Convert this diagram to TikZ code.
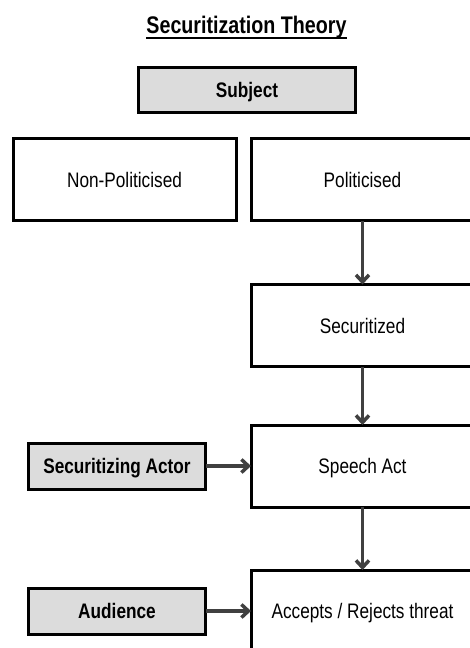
\documentclass[tikz,border=0pt]{standalone}
\usepackage{fontspec}
\setmainfont{Liberation Sans}[FakeStretch=0.82]
\usetikzlibrary{arrows.meta}
\definecolor{boxgray}{HTML}{DCDCDC}
\definecolor{arrowgray}{HTML}{404040}

\begin{document}
\begin{tikzpicture}[x=1pt, y=-1pt,
    stage/.style={draw, line width=3pt, minimum width=223pt, minimum height=82pt,
      inner sep=0pt, outer sep=0pt, font=\fontsize{21}{25}\selectfont,
      text height=15pt, text depth=0pt},
    actor/.style={stage, fill=boxgray, minimum width=177pt, minimum height=46pt,
      font=\bfseries\fontsize{21}{25}\selectfont},
    flow/.style={draw=arrowgray, line width=3.5pt,
      -{Straight Barb[length=7pt, width=13pt]}}]
  \useasboundingbox (0,0) rectangle (469,648);

  % title
  \node[font=\bfseries\fontsize{24}{28}\selectfont, inner sep=0pt, anchor=base] (title) at (246.5,33) {Securitization Theory};
  \draw[line width=1.8pt] ([yshift=-5pt]title.base west) -- ([yshift=-5pt]title.base east);

  \node[actor, minimum width=217pt, minimum height=45pt] (subject) at (247,90) {Subject};

  % stages
  \node[stage] (nonpol) at (124.5,179.5) {Non-Politicised};
  \node[stage] (pol) at (362.5,179.5) {Politicised};
  \node[stage] (secur) at (362.5,325.5) {Securitized};
  \node[stage] (speech) at (362.5,466) {Speech Act};
  \node[stage] (accept) at (362.5,611) {Accepts / Rejects threat};

  % actors
  \node[actor] (secactor) at (117,466) {Securitizing Actor};
  \node[actor] (audience) at (117,611) {Audience};

  \draw[flow] (pol) -- (secur);
  \draw[flow] (secur) -- (speech);
  \draw[flow] (speech) -- (accept);
  \draw[flow] (secactor) -- (speech);
  \draw[flow] (audience) -- (accept);
\end{tikzpicture}
\end{document}
